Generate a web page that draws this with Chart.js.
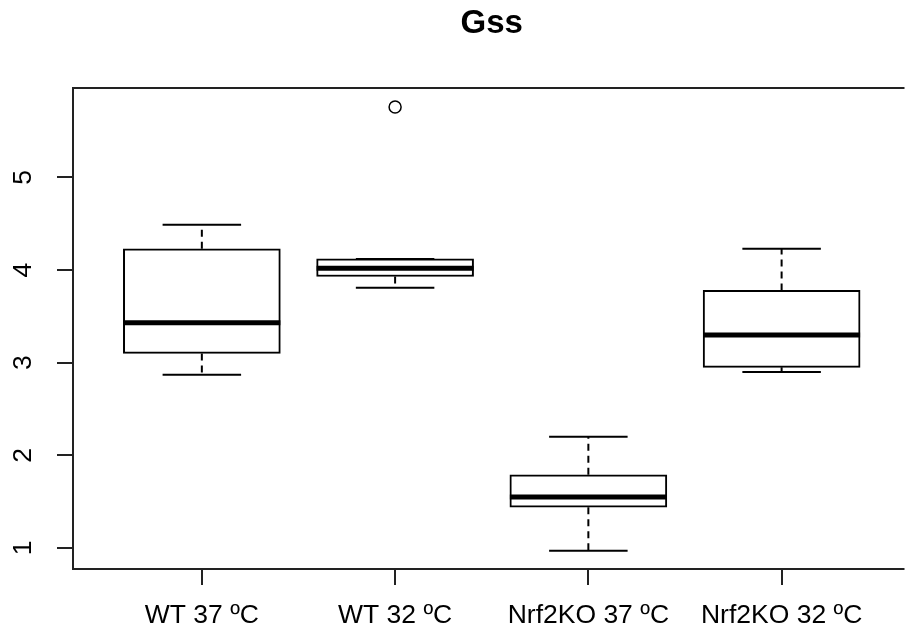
<!DOCTYPE html>
<html><head><meta charset="utf-8">
<script src="https://cdn.jsdelivr.net/npm/chart.js@4.4.1/dist/chart.umd.min.js"></script>
<style>html,body{margin:0;padding:0;background:#fff;overflow:hidden}canvas{display:block}</style>
</head><body>
<canvas id="c" width="907" height="634"></canvas>
<script>
const categories = ['WT 37 ºC', 'WT 32 ºC', 'Nrf2KO 37 ºC', 'Nrf2KO 32 ºC'];
const lowerWhisker = [2.87, 3.81, 0.97, 2.90];
const q1 = [3.10, 3.93, 1.44, 2.95];
const median = [3.43, 4.02, 1.55, 3.30];
const q3 = [4.23, 4.12, 1.79, 3.78];
const upperWhisker = [4.49, 4.12, 2.20, 4.23];
const outliers = [{ group: 2, value: 5.76 }];
const yTicks = [1, 2, 3, 4, 5];
const chartTitle = 'Gss';

const FONT = '"Liberation Sans", Arial, Helvetica, sans-serif';
const X_MIN = 0.3333, X_MAX = 4.61, X_FULL_MAX = 4.6667;

const boxPlugin = {
  id: 'boxParts',
  afterDatasetsDraw(chart) {
    const ctx = chart.ctx, xs = chart.scales.x, ys = chart.scales.y;
    const meta = chart.getDatasetMeta(0);
    ctx.save();
    ctx.strokeStyle = '#000';
    categories.forEach((c, i) => {
      const x = xs.getPixelForValue(i + 1);
      const half = meta.data[i].width / 2;
      const cap = half / 2;
      const yLo = ys.getPixelForValue(lowerWhisker[i]);
      const yHi = ys.getPixelForValue(upperWhisker[i]);
      const yQ1 = ys.getPixelForValue(q1[i]);
      const yQ3 = ys.getPixelForValue(q3[i]);
      const yMed = ys.getPixelForValue(median[i]);
      ctx.lineWidth = 2;
      ctx.setLineDash([7, 5]);
      ctx.beginPath();
      ctx.moveTo(x, yQ3); ctx.lineTo(x, yHi);
      ctx.moveTo(x, yQ1); ctx.lineTo(x, yLo);
      ctx.stroke();
      ctx.setLineDash([]);
      ctx.beginPath();
      ctx.moveTo(x - cap, yHi); ctx.lineTo(x + cap, yHi);
      ctx.moveTo(x - cap, yLo); ctx.lineTo(x + cap, yLo);
      ctx.stroke();
      ctx.lineWidth = 5;
      ctx.beginPath();
      ctx.moveTo(x - half, yMed); ctx.lineTo(x + half, yMed);
      ctx.stroke();
    });
    const a = chart.chartArea;
    ctx.lineWidth = 2;
    ctx.strokeStyle = '#222';
    ctx.beginPath();
    ctx.moveTo(a.right + 5, a.top); ctx.lineTo(a.left, a.top);
    ctx.lineTo(a.left, a.bottom); ctx.lineTo(a.right + 5, a.bottom);
    ctx.stroke();
    ctx.restore();
  },
  afterDraw(chart) {
    const ctx = chart.ctx, xs = chart.scales.x, ys = chart.scales.y;
    ctx.save();
    ctx.fillStyle = '#000';
    ctx.font = '26.5px ' + FONT;
    ctx.textAlign = 'center';
    ctx.textBaseline = 'middle';
    yTicks.forEach(v => {
      const y = ys.getPixelForValue(v);
      ctx.save();
      ctx.translate(24, y);
      ctx.rotate(-Math.PI / 2);
      ctx.fillText(String(v), 0, 0);
      ctx.restore();
    });
    ctx.font = 'bold 33px ' + FONT;
    ctx.textBaseline = 'alphabetic';
    const cx = xs.getPixelForValue((X_MIN + X_FULL_MAX) / 2);
    ctx.fillText(chartTitle, cx, 33);
    ctx.restore();
  }
};

new Chart(document.getElementById('c'), {
  data: {
    datasets: [
      {
        type: 'bar',
        data: categories.map((c, i) => ({ x: i + 1, y: [q1[i], q3[i]] })),
        backgroundColor: '#fff',
        borderColor: '#000',
        borderWidth: 2,
        borderSkipped: false,
        barThickness: 157,
        order: 2
      },
      {
        type: 'scatter',
        data: outliers.map(o => ({ x: o.group, y: o.value })),
        pointStyle: 'circle',
        pointRadius: 6,
        pointBorderWidth: 1.5,
        borderColor: '#000',
        backgroundColor: '#fff',
        order: 1
      }
    ]
  },
  options: {
    responsive: false,
    animation: false,
    layout: { padding: { left: 0, right: 0, top: 88, bottom: 0 } },
    plugins: {
      legend: { display: false },
      tooltip: { enabled: false },
      title: { display: false }
    },
    scales: {
      x: {
        type: 'linear',
        offset: false,
        min: X_MIN,
        max: X_MAX,
        afterBuildTicks: s => { s.ticks = categories.map((c, i) => ({ value: i + 1 })); },
        afterFit: s => { s.height = 65; },
        ticks: {
          callback: v => categories[v - 1],
          color: '#000',
          font: { family: FONT, size: 26.5 },
          padding: 15,
          maxRotation: 0,
          autoSkip: false
        },
        grid: { offset: false, drawOnChartArea: false, drawTicks: true, tickLength: 16, color: '#222', lineWidth: 2 },
        border: { display: false }
      },
      y: {
        type: 'linear',
        min: 0.773,
        max: 5.965,
        afterBuildTicks: s => { s.ticks = yTicks.map(v => ({ value: v })); },
        afterFit: s => { s.width = 73; },
        ticks: { display: false },
        grid: { drawOnChartArea: false, drawTicks: true, tickLength: 16, color: '#222', lineWidth: 2 },
        border: { display: false }
      }
    }
  },
  plugins: [boxPlugin]
});
</script>
</body></html>
